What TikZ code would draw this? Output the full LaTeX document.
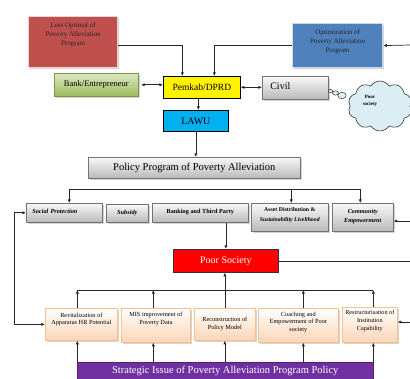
\documentclass[tikz,border=0pt]{standalone}
\usepackage{fontspec}
\setmainfont{Liberation Serif}
\usetikzlibrary{shapes.symbols,shadows,arrows.meta,calc}
\definecolor{redA}{HTML}{C0504D}
\definecolor{blueA}{HTML}{4F81BD}
\definecolor{cyanA}{HTML}{00B0F0}
\definecolor{purpleA}{HTML}{7030A0}
\definecolor{peachA}{HTML}{FCD5B5}
\definecolor{peachB}{HTML}{FAC090}
\definecolor{greenA}{HTML}{9BBB59}
\definecolor{greenB}{HTML}{DCE8C4}
\definecolor{cloudA}{HTML}{DAEEF3}
\definecolor{lineA}{HTML}{262626}
\tikzset{
  base/.style={anchor=north west, inner sep=0pt},
  shd/.style={drop shadow={shadow xshift=1.3pt,shadow yshift=-1.3pt,opacity=0.35}},
  grayb/.style={base, draw=black!55, line width=0.6pt, top color=gray!5, bottom color=gray!55, shd},
  greenb/.style={base, draw=greenA!80!black, line width=0.6pt, top color=greenB, bottom color=greenA, shd},
  peachb/.style={base, draw=peachB, line width=0.7pt, top color=white, bottom color=peachA, shd},
  redb/.style={base, fill=redA, draw=redA!25, line width=1.2pt, shd},
  blueb/.style={base, fill=blueA, draw=blueA!30, line width=1.2pt, shd},
  yellowb/.style={base, fill=yellow, draw=black, line width=0.7pt},
  cyanb/.style={base, fill=cyanA, draw=black, line width=0.7pt},
  poorb/.style={base, fill=red, draw=black!80, line width=0.7pt},
  purpb/.style={base, fill=purpleA, draw=purpleA!70!black, line width=0.6pt},
  txt/.style={inner sep=0pt, align=center},
  ln/.style={draw=lineA, line width=0.7pt},
  arr/.style={ln, -{Latex[length=3.6pt,width=3.2pt]}},
  dbl/.style={ln, {Latex[length=3.6pt,width=3.2pt]}-{Latex[length=3.6pt,width=3.2pt]}},
  bubble/.style={fill=cloudA, draw=black!80, line width=0.5pt},
}
% name, x1, y1, x2, y2, style, text style, text raise, text
\newcommand\bx[9]{%
  \node[#6, minimum width={#4pt-#2pt}, minimum height={#5pt-#3pt}] (#1) at (#2,#3) {};
  \node[txt, #7] (#1-t) at ([yshift=#8pt]#1.center) {#9};
}
\begin{document}
\begin{tikzpicture}[x=1pt,y=-1pt]
\useasboundingbox (0,0) rectangle (410,378);
\clip (0,0) rectangle (410,378);

% top row
\bx{less}{28}{16}{117}{67}{redb}{font=\fontsize{7}{9}\selectfont, text=black!85}{7.5}{Less Optimal of\\Poverty Alleviation\\Program}
\bx{opt}{292}{23}{382}{67}{blueb}{font=\fontsize{7}{9}\selectfont, text=black!85}{4}{Optimization of\\Poverty Alleviation\\Program}
\bx{pemkab}{163}{76}{240}{98}{yellowb}{font=\fontsize{9.5}{11}\selectfont}{0}{Pemkab/DPRD}
\bx{bank}{54}{73}{138}{96}{greenb}{font=\fontsize{8.5}{10}\selectfont}{0}{Bank/Entrepreneur}
\bx{civil}{262}{76}{328}{99}{grayb}{font=\fontsize{10}{12}\selectfont, text width=50pt, align=left}{1.5}{Civil}
\bx{lawu}{163}{110}{228}{131}{cyanb}{font=\fontsize{10}{12}\selectfont}{0}{LAWU}

% cloud
\node[cloud, cloud puffs=10, cloud puff arc=115, aspect=1.25, fill=cloudA, draw=black!80, line width=0.6pt,
      minimum width=64pt, minimum height=50pt, inner sep=0pt] (cloud) at (380,106) {};
\node[txt, font=\bfseries\fontsize{5}{7}\selectfont] (cloud-t) at (370,101) {Poor\\society};
\draw[bubble] (330.5,91) ellipse (2.2 and 1.6);
\draw[bubble] (335.5,93) ellipse (3 and 2.2);
\draw[bubble] (342,95.5) ellipse (4.2 and 3.2);

% policy
\bx{policy}{88}{157}{300}{178}{grayb}{font=\fontsize{10.5}{12}\selectfont}{0}{Policy Program of Poverty Alleviation}

% second row
\bx{soc}{26}{203}{102}{222}{grayb}{font=\bfseries\itshape\fontsize{6.3}{7.5}\selectfont, text width=64pt, align=left}{1}{Social Protection}
\bx{sub}{106}{204}{148}{222}{grayb}{font=\bfseries\itshape\fontsize{6.3}{7.5}\selectfont}{0}{Subsidy}
\bx{bank3}{152}{203}{248}{222}{grayb}{font=\bfseries\fontsize{6.2}{7.5}\selectfont}{1}{Banking and Third Party}
\bx{asset}{251}{203}{328}{231}{grayb}{font=\bfseries\fontsize{5.8}{9.5}\selectfont}{2}{Asset Distribution \&\\\itshape Sustainability Livelihood}
\bx{com}{332}{203}{393}{231}{grayb}{font=\bfseries\itshape\fontsize{6.2}{8.5}\selectfont}{1}{Community\\Empowerment}

% poor society
\bx{poor}{173}{249}{278}{272}{poorb}{font=\fontsize{10}{12}\selectfont, text=white}{0}{Poor Society}

% bottom row
\bx{revit}{45}{308}{117}{340}{peachb}{font=\fontsize{6.3}{7.8}\selectfont}{5}{Revitalization of\\Apparatus HR Potential}
\bx{mis}{121}{308}{190}{342}{peachb}{font=\fontsize{6.3}{7.8}\selectfont}{6}{MIS improvement of\\Poverty Data}
\bx{recon}{194}{308}{255}{340}{peachb}{font=\fontsize{6.3}{7.8}\selectfont}{0}{Reconstruction of\\Policy Model}
\bx{coach}{258}{308}{338}{342}{peachb}{font=\fontsize{6.3}{7.8}\selectfont}{3}{Coaching and\\Empowerment of Poor\\society}
\bx{restr}{342}{307}{397}{342}{peachb}{font=\fontsize{6.2}{7.8}\selectfont}{4}{Restructurisation of\\Institution\\Capability}

% strategic issue
\bx{strat}{77}{362}{373}{382}{purpb}{font=\fontsize{10.5}{12}\selectfont, text=white}{1}{Strategic Issue of Poverty Alleviation Program Policy}

% coordinates at the free ends
\coordinate (rOpt) at (410,45);
\coordinate (rCom) at (410,221);
\coordinate (rRes) at (410,322);
\coordinate (rEdge) at (410,0);
\coordinate (busT) at (0,189);
\coordinate (busB) at (0,290);
\coordinate (lf) at (14,0);

% connectors, top
\draw[arr] ([yshift=-3.5pt]less.east) -| ([xshift=-19.5pt]pemkab.north);
\draw[arr] (opt.west) -| ([xshift=12.5pt]pemkab.north);
\draw[arr] (rOpt) -- (opt.east);
\draw[dbl] ([xshift=2.5pt]bank.east) -- (bank.east -| pemkab.west);
\draw[dbl] (pemkab.east) -- (pemkab.east -| civil.west);
\draw[arr] ([xshift=-3.5pt]pemkab.south) -- ([xshift=-3.5pt]pemkab.south |- lawu.north);
\draw[arr] (lawu.south) -- (lawu.south |- policy.north);

% policy to second row
\draw[ln] ([xshift=5pt]soc.north |- busT) -- ([xshift=-2.5pt]com.north |- busT);
\draw[arr] ([xshift=5pt]soc.north |- busT) -- ([xshift=5pt]soc.north);
\draw[arr] ([xshift=1.5pt]asset.north |- busT) -- ([xshift=1.5pt]asset.north);
\draw[arr] ([xshift=-2.5pt]com.north |- busT) -- ([xshift=-2.5pt]com.north);
\draw[arr] (rCom) -- (rCom -| com.east);

% poor society
\draw[arr] (poor.north |- bank3.south) -- (poor.north);
\draw[ln] (poor.east) -- (poor.east -| rEdge);

% bottom bus
\draw[ln] ([xshift=-4pt]revit.north |- busB) -- ([xshift=3.5pt]restr.north |- busB);
\draw[arr] ([xshift=-4pt]revit.north) -- ([xshift=-4pt]revit.north |- busB);
\draw[arr] ([xshift=-2.5pt]mis.north) -- ([xshift=-2.5pt]mis.north |- busB);
\draw[arr] (recon.north) -- (recon.north |- poor.south);
\draw[arr] ([xshift=5pt]coach.north) -- ([xshift=5pt]coach.north |- busB);
\draw[arr] ([xshift=3.5pt]restr.north) -- ([xshift=3.5pt]restr.north |- busB);
\draw[arr] (rRes) -- (rRes -| restr.east);

% strategic issue to bottom row
\draw[arr] ([xshift=-4pt]revit.south |- strat.north) -- ([xshift=-4pt]revit.south);
\draw[arr] ([xshift=-2.5pt]mis.south |- strat.north) -- ([xshift=-2.5pt]mis.south);
\draw[arr] (recon.south |- strat.north) -- (recon.south);
\draw[arr] ([xshift=5pt]coach.south |- strat.north) -- ([xshift=5pt]coach.south);
\draw[arr] ([xshift=3.5pt]restr.south |- strat.north) -- ([xshift=3.5pt]restr.south);

% left feedback
\draw[dbl] (soc.west) -- (soc.west -| lf) -- (revit.west -| lf) -- (revit.west);
\end{tikzpicture}
\end{document}
